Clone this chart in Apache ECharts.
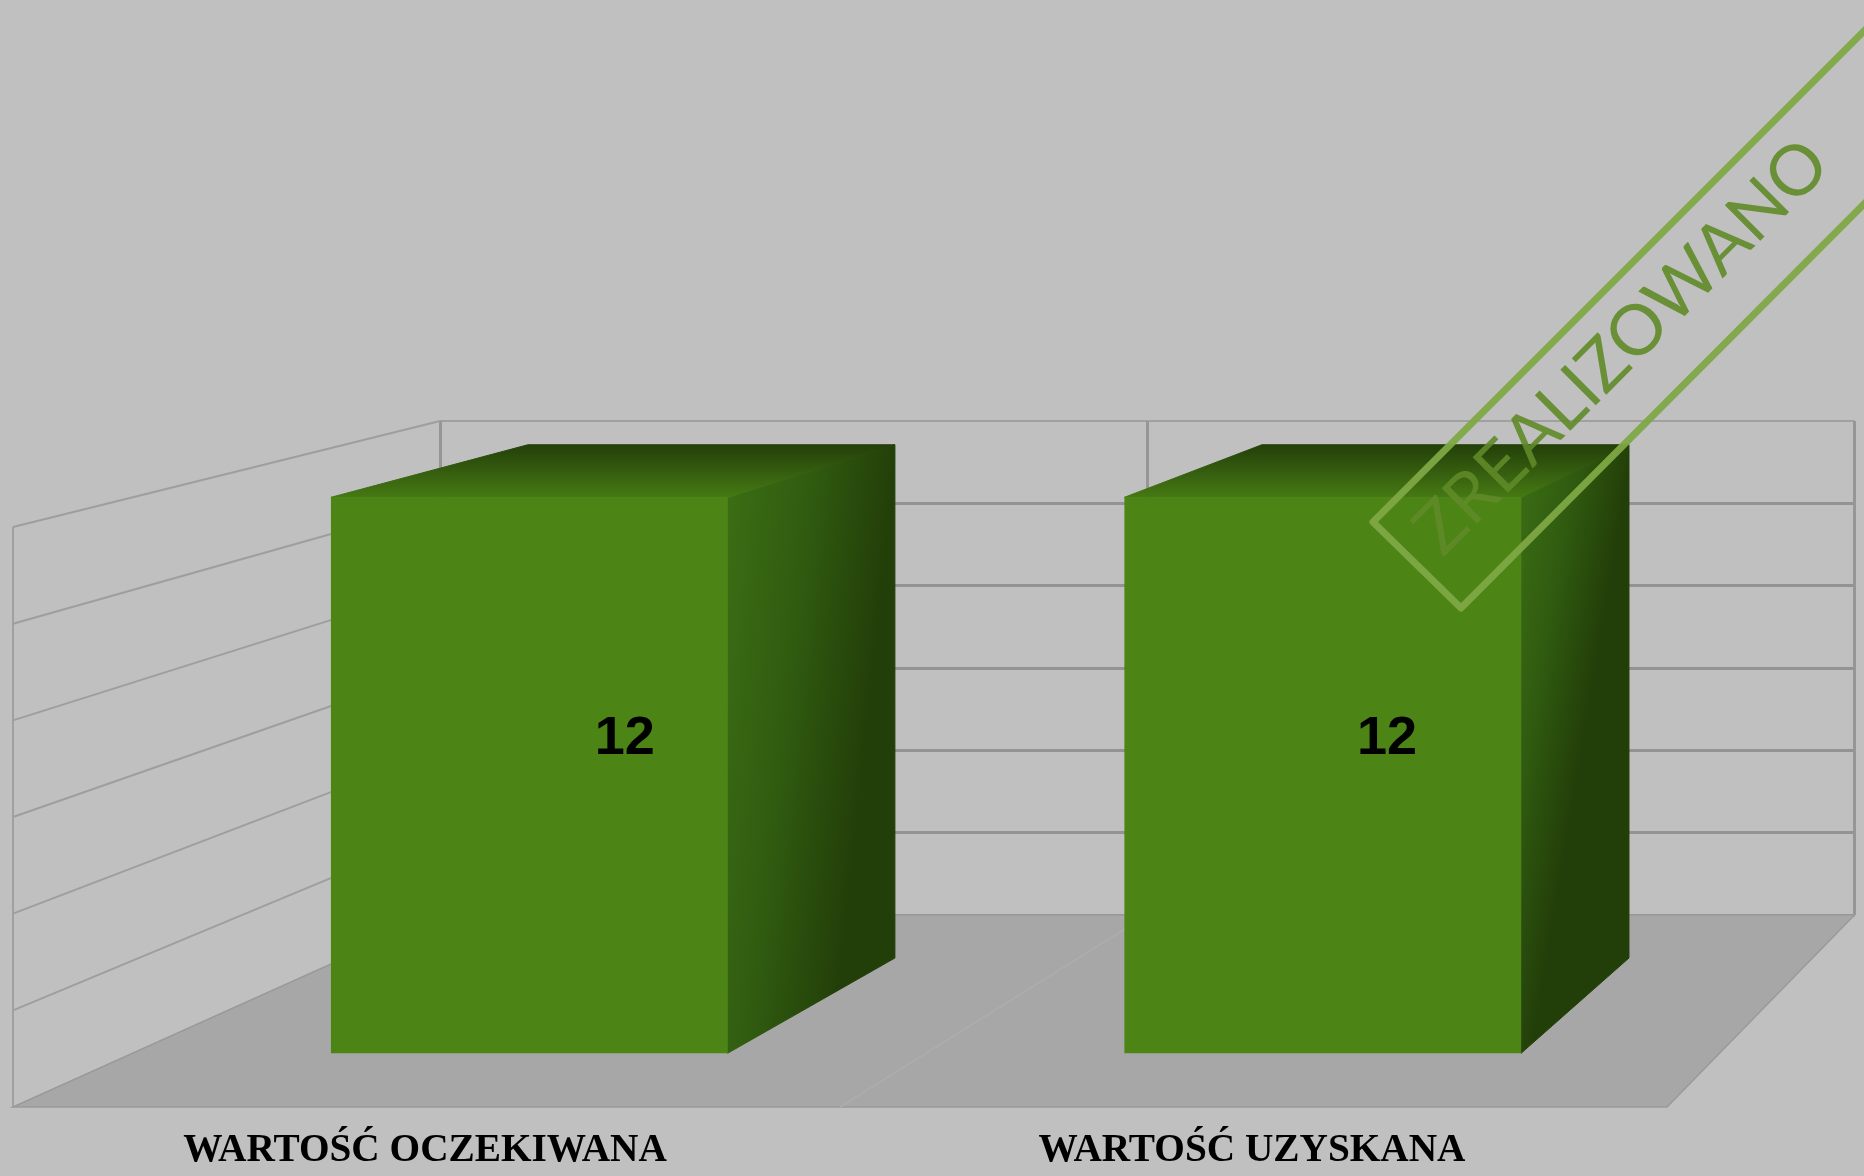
<!DOCTYPE html>
<html>
<head>
<meta charset="utf-8">
<title>Wartość oczekiwana / uzyskana</title>
<script src="https://cdn.jsdelivr.net/npm/echarts@6/dist/echarts.min.js"></script>
<style>
  html, body { margin: 0; padding: 0; background: #c0c0c0; }
  #chart { width: 1864px; height: 1176px; }
</style>
</head>
<body>
<div id="chart"></div>
<script>
const categories = ['WARTOŚĆ OCZEKIWANA', 'WARTOŚĆ UZYSKANA'];
const values = [12, 12];
const yTicks = [0, 2, 4, 6, 8, 10, 12];
const stampText = 'ZREALIZOWANO';

// fake 3D: the grid is the back wall, points get pulled towards the front plane by depth d
const BACK_LEFT = 440, BACK_RIGHT = 1854.5, BACK_FLOOR = 915;
const FRONT_LEFT = 13, FRONT_RIGHT = 1667, FRONT_FLOOR = 1107;
const SCALE_X = (FRONT_RIGHT - FRONT_LEFT) / (BACK_RIGHT - BACK_LEFT);
const SCALE_Y = 580 / 494;
const BAR_BACK = 0.224, BAR_FRONT = 0.72, LABEL_DEPTH = 0.46;

const project = (x, y, d) => {
  const fx = FRONT_LEFT + (x - BACK_LEFT) * SCALE_X;
  const fy = FRONT_FLOOR - (BACK_FLOOR - y) * SCALE_Y;
  return [x + d * (fx - x), y + d * (fy - y)];
};

const renderWall = (params, api) => {
  const tick = api.value(0);
  const y = api.coord([0, tick])[1];
  const front = project(BACK_LEFT, y, 1);
  const children = [{
    type: 'line',
    shape: { x1: BACK_LEFT, y1: y, x2: front[0], y2: front[1] },
    style: { stroke: tick === 0 ? '#9c9c9c' : '#9e9e9e', lineWidth: tick === 0 ? 1 : 2 }
  }];
  if (tick === yTicks[yTicks.length - 1]) {
    children.push({
      type: 'line',
      shape: { x1: front[0], y1: front[1], x2: front[0], y2: FRONT_FLOOR },
      style: { stroke: '#a0a0a0', lineWidth: 2 }
    });
    // top edge of the back wall is thinner than the other gridlines
    children.push({
      type: 'line',
      shape: { x1: BACK_LEFT, y1: y, x2: BACK_RIGHT, y2: y },
      style: { stroke: '#969696', lineWidth: 1.5 }
    });
  }
  return { type: 'group', children };
};

const renderFloor = () => {
  const mid = (BACK_LEFT + BACK_RIGHT) / 2;
  return {
    type: 'group',
    children: [
      {
        type: 'polygon',
        shape: {
          points: [
            project(BACK_LEFT, BACK_FLOOR, 0),
            project(BACK_RIGHT, BACK_FLOOR, 0),
            project(BACK_RIGHT, BACK_FLOOR, 1),
            project(BACK_LEFT, BACK_FLOOR, 1)
          ]
        },
        style: { fill: '#a7a7a7', stroke: '#9a9a9a', lineWidth: 1.5 }
      },
      {
        type: 'line',
        shape: {
          x1: mid, y1: BACK_FLOOR,
          x2: project(mid, BACK_FLOOR, 1)[0], y2: FRONT_FLOOR
        },
        style: { stroke: '#adadad', lineWidth: 1.5 }
      }
    ]
  };
};

const renderBar = (params, api) => {
  const top = api.coord([api.value(0), api.value(1)]);
  const half = api.size([1, 0])[0] / 4;
  const l = top[0] - half, r = top[0] + half, t = top[1];
  const mid = api.coord([api.value(0), api.value(1) / 2]);
  const labelPos = project(top[0], mid[1], LABEL_DEPTH);
  const p = project;
  const sideFill = new echarts.graphic.LinearGradient(0, 0, 1, 0.03, [
    { offset: 0, color: '#3c6f14' },
    { offset: 0.5, color: '#305c10' },
    { offset: 1, color: '#233f09' }
  ]);
  const topFill = new echarts.graphic.LinearGradient(0, 1, 0, 0, [
    { offset: 0, color: '#467a14' },
    { offset: 1, color: '#233f09' }
  ]);
  return {
    type: 'group',
    children: [
      {
        type: 'polygon',
        shape: { points: [p(r, t, BAR_FRONT), p(r, t, BAR_BACK), p(r, BACK_FLOOR, BAR_BACK), p(r, BACK_FLOOR, BAR_FRONT)] },
        style: { fill: sideFill, stroke: sideFill, lineWidth: 1 }
      },
      {
        type: 'polygon',
        shape: { points: [p(l, t, BAR_FRONT), p(l, t, BAR_BACK), p(r, t, BAR_BACK), p(r, t, BAR_FRONT)] },
        style: { fill: topFill, stroke: topFill, lineWidth: 1 }
      },
      {
        type: 'polygon',
        shape: { points: [p(l, t, BAR_FRONT), p(r, t, BAR_FRONT), p(r, BACK_FLOOR, BAR_FRONT), p(l, BACK_FLOOR, BAR_FRONT)] },
        style: { fill: '#4d8416' }
      },
      {
        type: 'text',
        x: labelPos[0],
        y: labelPos[1] + 3,
        style: {
          text: String(api.value(1)),
          fontFamily: '"Liberation Sans"',
          fontWeight: 'bold',
          fontSize: 54,
          fill: '#000',
          align: 'center',
          verticalAlign: 'middle'
        }
      }
    ]
  };
};

const chart = echarts.init(document.getElementById('chart'));
chart.setOption({
  animation: false,
  backgroundColor: '#c0c0c0',
  grid: [
    { left: BACK_LEFT, right: 1864 - BACK_RIGHT, top: 421, bottom: 1176 - BACK_FLOOR },
    { left: FRONT_LEFT - 1.5, width: FRONT_RIGHT - FRONT_LEFT, top: 527, height: FRONT_FLOOR - 527 }
  ],
  xAxis: [
    {
      type: 'category',
      data: categories,
      gridIndex: 0,
      axisLine: { show: false },
      axisTick: { show: false },
      axisLabel: { show: false },
      splitLine: { show: true, interval: 0, lineStyle: { color: '#969696', width: 3 } }
    },
    {
      type: 'category',
      data: categories,
      gridIndex: 1,
      axisLine: { show: false },
      axisTick: { show: false },
      axisLabel: {
        interval: 0,
        margin: 24,
        fontFamily: '"Liberation Serif"',
        fontWeight: 'bold',
        fontSize: 39.3,
        color: '#000'
      }
    }
  ],
  yAxis: [
    {
      type: 'value',
      gridIndex: 0,
      min: 0,
      max: 12,
      interval: 2,
      axisLabel: { show: false },
      axisLine: { show: false },
      axisTick: { show: false },
      splitLine: { showMaxLine: false, lineStyle: { color: '#939393', width: 3 } }
    },
    { type: 'value', gridIndex: 1, show: false, splitLine: { show: false } }
  ],
  series: [
    {
      name: 'walls',
      type: 'custom',
      z: 2,
      silent: true,
      renderItem: renderWall,
      encode: { y: 0 },
      data: yTicks.map((t) => [t])
    },
    {
      name: 'floor',
      type: 'custom',
      z: 3,
      silent: true,
      renderItem: renderFloor,
      data: [[0]]
    },
    {
      name: 'wartosc',
      type: 'custom',
      z: 4,
      renderItem: renderBar,
      encode: { x: 0, y: 1 },
      data: values.map((v, i) => [i, v])
    }
  ],
  graphic: [
    {
      type: 'polyline',
      z: 100,
      silent: true,
      shape: { points: [[1880, 15], [1373, 522], [1461, 608], [1880, 188]] },
      style: { stroke: '#7ea845', lineWidth: 7, lineJoin: 'round', fill: null, opacity: 0.95 }
    },
    {
      type: 'text',
      z: 100,
      silent: true,
      x: 1622,
      y: 347,
      rotation: Math.PI / 4,
      style: {
        text: stampText,
        fontFamily: 'Lato',
        fontWeight: 'normal',
        fontSize: 70,
        fill: '#5f8a28',
        opacity: 0.9,
        align: 'center',
        verticalAlign: 'middle'
      }
    }
  ]
});
</script>
</body>
</html>
